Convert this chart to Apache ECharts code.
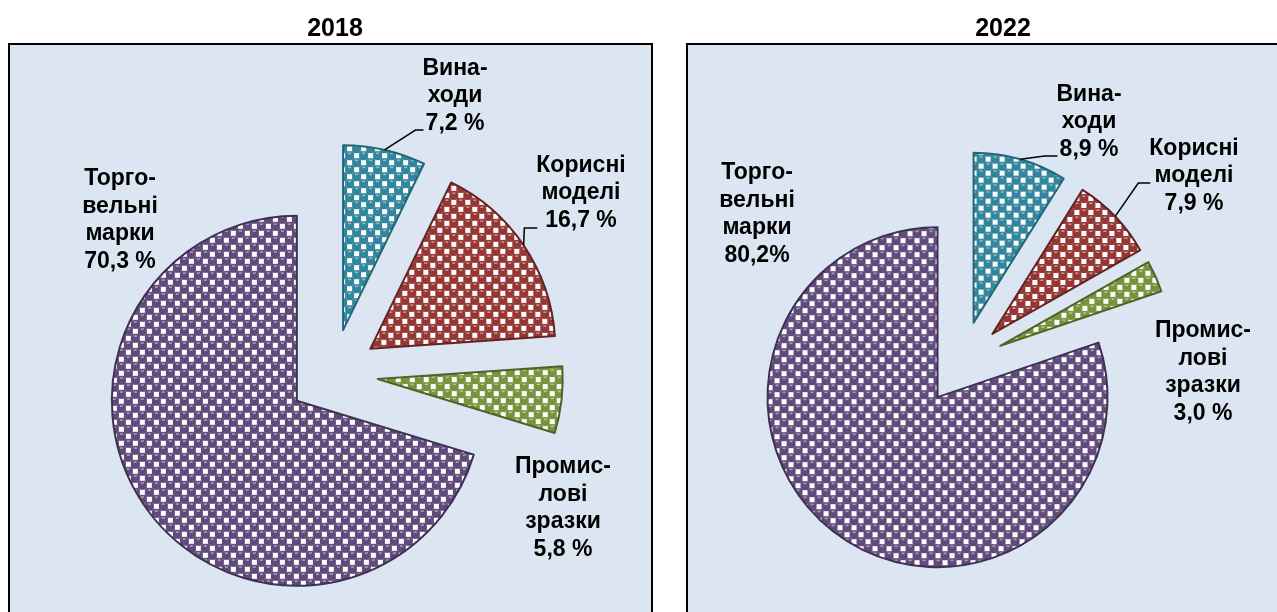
<!DOCTYPE html>
<html><head><meta charset="utf-8">
<script src="https://cdn.jsdelivr.net/npm/echarts@6/dist/echarts.min.js"></script>
<style>html,body{margin:0;padding:0;background:#fff}#c{width:1277px;height:612px}</style>
</head><body><div id="c"></div>
<script>
// ---- data ----
const categories = ['Винаходи', 'Корисні моделі', 'Промислові зразки', 'Торговельні марки'];
const labelTexts = ['Вина-\nходи', 'Корисні\nмоделі', 'Промис-\nлові\nзразки', 'Торго-\nвельні\nмарки'];
const years = ['2018', '2022'];
const values2018 = [7.2, 16.7, 5.8, 70.3];
const values2022 = [8.9, 7.9, 3.0, 80.2];
const valueLabels2018 = ['7,2 %', '16,7 %', '5,8 %', '70,3 %'];
const valueLabels2022 = ['8,9 %', '7,9 %', '3,0 %', '80,2%'];

// ---- styles / layout ----
const FONT = '"Liberation Sans", Arial, sans-serif';
const fills = ['#31859c', '#953735', '#77933c', '#604a7b'];
const borders = ['#236676', '#632523', '#4f6228', '#3f3151'];
const pies = [
  { center: [333, 374], radius: 185, offset: 45 },
  { center: [962, 363], radius: 170, offset: 42 }
];
const labelPos = [
  [[455, 96], [581, 193], [563, 508], [120, 220]],
  [[1089, 122], [1194, 176], [1203, 372], [757, 214]]
];
const leader = [
  [[34, 8], [35, 13], null, null],
  [[34, 13], [7, 12], null, null]
];

function mix(hex, t) {
  const n = parseInt(hex.slice(1), 16);
  const r = (n >> 16) & 255, g = (n >> 8) & 255, b = n & 255;
  const f = c => Math.round(c + (255 - c) * t);
  return 'rgb(' + f(r) + ',' + f(g) + ',' + f(b) + ')';
}
function makePattern(color) {
  const T = 14, H = 7;
  const c = document.createElement('canvas');
  c.width = c.height = T;
  const g = c.getContext('2d');
  g.fillStyle = mix(color, 0.35);
  g.fillRect(0, 0, T, T);
  const centers = [[3.5, 3.5], [10.5, 10.5]];
  for (const [bx, by] of centers) {
    for (const ox of [-T, 0, T]) for (const oy of [-T, 0, T]) {
      const x = bx + ox, y = by + oy;
      g.fillStyle = color;
      g.beginPath(); g.arc(x, y, 4.9, 0, Math.PI * 2); g.fill();
      g.fillStyle = mix(color, 0.55);
      g.fillRect(x - 1.5, y - 3, 3, 1.4);
    }
  }
  g.fillStyle = '#fff';
  g.fillRect(H + 1, 1, 5, 5);
  g.fillRect(1, H + 1, 5, 5);
  return { image: c, repeat: 'repeat' };
}

// exploded pie (no labels)
function pieSeries(idx, values) {
  const P = pies[idx];
  return {
    type: 'pie', center: P.center, radius: P.radius, startAngle: 90, clockwise: true,
    selectedMode: 'multiple', selectedOffset: P.offset,
    animation: false, emphasis: { disabled: true }, silent: true,
    label: { show: false }, labelLine: { show: false },
    data: values.map((v, i) => ({
      name: categories[i], value: v, selected: true,
      itemStyle: { color: makePattern(fills[i]), borderColor: borders[i], borderWidth: 2 }
    }))
  };
}

// same pie, invisible slices, carrying the labels
function labelSeries(idx, values, valueLabels) {
  const P = pies[idx];
  return {
    type: 'pie', center: P.center, radius: P.radius, startAngle: 90, clockwise: true,
    selectedMode: false, avoidLabelOverlap: false, animation: false,
    emphasis: { disabled: true }, silent: true, z: 5,
    itemStyle: { color: 'rgba(0,0,0,0)', borderWidth: 0 },
    data: values.map((v, i) => ({
      name: categories[i], value: v,
      label: { formatter: labelTexts[i] + '\n' + valueLabels[i] },
      labelLine: { show: leader[idx][i] != null }
    })),
    label: {
      show: true, position: 'outside', color: '#000', fontFamily: FONT,
      fontWeight: 'bold', fontSize: 23, lineHeight: 27.5, align: 'center'
    },
    labelLine: { lineStyle: { color: '#000', width: 1.5 }, length: 10, length2: 10 },
    labelLayout: function (p) {
      const pos = labelPos[idx][p.dataIndex];
      const w = p.labelRect.width;
      const out = { x: pos[0], y: pos[1], align: 'center', verticalAlign: 'middle' };
      const ld = leader[idx][p.dataIndex];
      if (ld && p.labelLinePoints) {
        const p0 = p.labelLinePoints[0];
        const vx = p0[0] - P.center[0], vy = p0[1] - P.center[1];
        const len = Math.sqrt(vx * vx + vy * vy) || 1;
        const sx = p0[0] + vx / len * P.offset, sy = p0[1] + vy / len * P.offset;
        const ex = pos[0] - w / 2 + 1, ey = pos[1] + ld[0];
        out.labelLinePoints = [[sx, sy], [ex - ld[1], ey], [ex, ey]];
      }
      return out;
    }
  };
}

const chart = echarts.init(document.getElementById('c'), null, { renderer: 'canvas' });
chart.setOption({
  backgroundColor: '#fff',
  animation: false,
  title: [
    { text: years[0], left: 330, top: 12, textAlign: 'center',
      textStyle: { fontSize: 25, fontWeight: 'bold', fontFamily: FONT, color: '#000' } },
    { text: years[1], left: 998, top: 12, textAlign: 'center',
      textStyle: { fontSize: 25, fontWeight: 'bold', fontFamily: FONT, color: '#000' } }
  ],
  graphic: [
    { type: 'rect', silent: true, z: -10, shape: { x: 9, y: 44, width: 643, height: 620 },
      style: { fill: '#dce6f2', stroke: '#000', lineWidth: 2 } },
    { type: 'rect', silent: true, z: -10, shape: { x: 687, y: 44, width: 624, height: 620 },
      style: { fill: '#dce6f2', stroke: '#000', lineWidth: 2 } }
  ],
  series: [
    pieSeries(0, values2018),
    pieSeries(1, values2022),
    labelSeries(0, values2018, valueLabels2018),
    labelSeries(1, values2022, valueLabels2022)
  ]
});
</script>
</body></html>
